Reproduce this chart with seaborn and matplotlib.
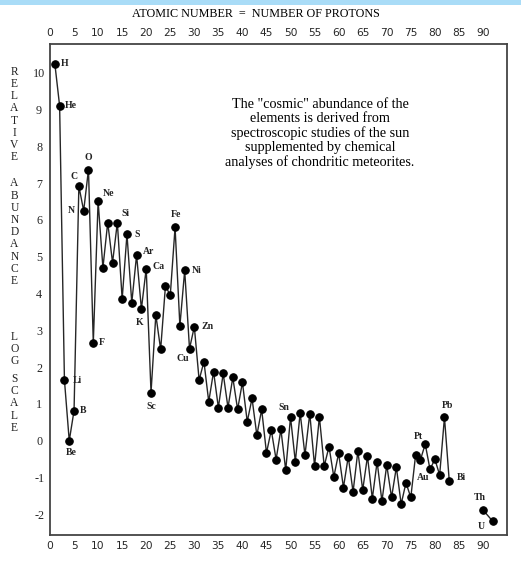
import numpy as np
import pandas as pd
import matplotlib
matplotlib.use("Agg")
import matplotlib.pyplot as plt
from matplotlib.patches import Rectangle
import seaborn as sns

# ---------------- data ----------------
atomic_number = list(range(1, 84)) + [90, 92]
log_abundance = [
    10.25, 9.10, 1.65, 0.00, 0.82, 6.92, 6.25, 7.37, 2.66, 6.51,   # 1-10
    4.70, 5.93, 4.84, 5.93, 3.85, 5.61, 3.75, 5.05, 3.58, 4.68,    # 11-20
    1.31, 3.42, 2.48, 4.21, 3.95, 5.80, 3.12, 4.63, 2.50, 3.10,    # 21-30
    1.65, 2.15, 1.06, 1.88, 0.90, 1.83, 0.90, 1.72, 0.85, 1.59,    # 31-40
    0.52, 1.15, 0.15, 0.85, -0.33, 0.29, -0.51, 0.31, -0.80, 0.64, # 41-50
    -0.57, 0.76, -0.39, 0.74, -0.69, 0.65, -0.69, -0.16, -0.98, -0.34,  # 51-60
    -1.27, -0.43, -1.39, -0.28, -1.34, -0.42, -1.57, -0.57, -1.64, -0.66,  # 61-70
    -1.54, -0.72, -1.72, -1.14, -1.54, -0.39, -0.52, -0.09, -0.78, -0.50,  # 71-80
    -0.93, 0.64, -1.10,                                             # 81-83
    -1.88, -2.18,                                                   # 90, 92
]
segment = ["main"] * 83 + ["actinides"] * 2

labeled_symbols = ["H", "He", "Li", "Be", "B", "C", "N", "O", "F", "Ne",
                   "Si", "S", "Ar", "Ca", "K", "Sc", "Fe", "Ni", "Cu", "Zn",
                   "Sn", "Pt", "Au", "Pb", "Bi", "Th", "U"]
labeled_numbers = [1, 2, 3, 4, 5, 6, 7, 8, 9, 10,
                   14, 16, 18, 20, 19, 21, 26, 28, 29, 30,
                   50, 78, 79, 82, 83, 90, 92]

x_ticks = list(range(0, 91, 5))
y_ticks = list(range(-2, 11))

title_text = "ATOMIC NUMBER  =  NUMBER OF PROTONS"
note_text = ('The "cosmic" abundance of the\nelements is derived from\n'
             'spectroscopic studies of the sun\nsupplemented by chemical\n'
             'analyses of chondritic meteorites.')
ylabel_words = ["RELATIVE", "ABUNDANCE", "LOG", "SCALE"]

# ---------------- layout / style (not data) ----------------
label_offsets = {  # label centre relative to marker, pixels (x right, y up)
    "H": (10, 0), "He": (11, 0), "Li": (13, 0), "Be": (2, -12), "B": (9, 0),
    "C": (-5, 10), "N": (-12, 0), "O": (0, 12.5), "F": (8.5, 0), "Ne": (10, 8),
    "Si": (8, 9), "S": (10, 0), "Ar": (12, 3), "Ca": (12.5, 2), "K": (-2, -13),
    "Sc": (0, -14), "Fe": (1, 13), "Ni": (12, 0), "Cu": (-7, -10), "Zn": (13, 0),
    "Sn": (-7, 10), "Pt": (-7, 8), "Au": (-7, -8), "Pb": (3, 12), "Bi": (12, 4),
    "Th": (-3, 12), "U": (-11, -5),
}

sns.set_style("white")
plt.rcParams["font.family"] = ["Liberation Serif", "DejaVu Serif"]
plt.rcParams["axes.unicode_minus"] = False

W, H = 521, 562
fig = plt.figure(figsize=(W / 100, H / 100), dpi=100)
ax = fig.add_axes([50 / W, (H - 535) / H, 457 / W, 491 / H])

df = pd.DataFrame({"Z": atomic_number, "abundance": log_abundance, "segment": segment})
sns.lineplot(data=df, x="Z", y="abundance", units="segment", estimator=None,
             sort=False, color="#262626", lw=1.0, marker="o", markersize=5.4,
             markeredgecolor="black", markerfacecolor="black", legend=False, ax=ax)

ax.set_xlim(0, 95)
ax.set_ylim(-2.56, 10.78)
ax.set_xticks(x_ticks)
ax.set_yticks(y_ticks)
ax.set_xlabel("")
ax.set_ylabel("")
ax.tick_params(axis="x", length=0, top=True, labeltop=True, bottom=True,
               labelbottom=True, labelsize=7.7, pad=4.5)
for t in ax.xaxis.get_major_ticks():
    t.label1.set_fontfamily("DejaVu Sans")
    t.label2.set_fontfamily("DejaVu Sans")
ax.tick_params(axis="y", length=0, labelsize=8.7, pad=7.8)
for lab in ax.get_yticklabels():
    lab.set_horizontalalignment("center")

for side in ax.spines.values():
    side.set_color("#444444")
    side.set_linewidth(1.3)

# element labels
for sym, z in zip(labeled_symbols, labeled_numbers):
    val = log_abundance[atomic_number.index(z)]
    dx, dy = label_offsets[sym]
    ax.annotate(sym, (z, val), xytext=(dx, dy), textcoords="offset pixels",
                ha="center", va="center", fontsize=7, fontweight="bold",
                color="#222222")

# explanatory note
fig.text(320 / W, 1 - 98 / H, note_text, ha="center", va="top",
         multialignment="center", fontsize=10.2, linespacing=1.11, color="black")

# title on top
fig.text(256 / W, 1 - 14 / H, title_text, ha="center", va="center",
         fontsize=8.7, color="black")

# vertical stacked y-label
starts = [71.7, 183.3, 337, 379]
spacing = 12.2
for word, y0 in zip(ylabel_words, starts):
    for i, ch in enumerate(word):
        fig.text(14.5 / W, 1 - (y0 + i * spacing) / H, ch, ha="center",
                 va="center", fontsize=8.3, color="#222222")

# light blue band at the top
fig.add_artist(Rectangle((0, 1 - 5 / H), 1, 5 / H, transform=fig.transFigure,
                         facecolor="#a9dcf7", edgecolor="none"))

fig.savefig("out.png", dpi=100)
